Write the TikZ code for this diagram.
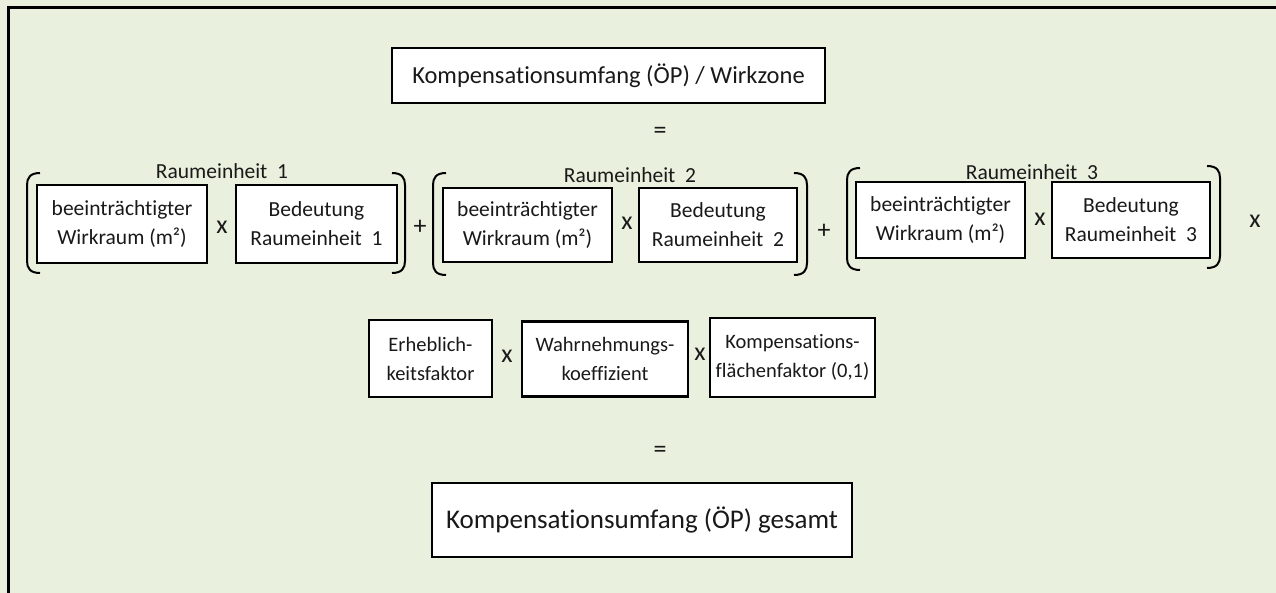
\documentclass[tikz,border=0pt]{standalone}
\usepackage{fontspec}
\setmainfont{Carlito}[Ligatures=NoCommon]
\definecolor{bggreen}{RGB}{233,240,221}
\definecolor{txt}{RGB}{25,25,25}
\begin{document}
\begin{tikzpicture}[x=1pt,y=-1pt,
  box/.style={draw=black, line width=2.6pt, fill=white, align=center, inner sep=0pt, text=txt, font=\fontsize{21.5}{29}\selectfont},
  smallbox/.style={box, font=\fontsize{20.5}{29}\selectfont},
  op/.style={inner sep=0pt, text=txt, font=\fontsize{26}{28}\selectfont},
  lbl/.style={inner sep=0pt, text=txt, font=\fontsize{21.5}{24}\selectfont},
  brk/.style={line width=2pt, draw=black}]
\useasboundingbox (0,0) rectangle (1276,593);
\fill[bggreen] (0,0) rectangle (1276,593);
\draw[line width=3pt] (8,593) -- (8,8) -- (1276,8);

% top
\node[box, line width=2pt, minimum width=433pt, minimum height=55pt, font=\fontsize{24.5}{28}\selectfont] (top) at (608.5,75.5) {Kompensationsumfang (ÖP) / Wirkzone};
\node[op] (eq1) at (660,133) {=};

% group 1
\node[lbl] (r1) at (222,171) {Raumeinheit\ \ 1};
\node[box, minimum width=170pt, minimum height=78pt] (b1) at (122,224) {beeinträchtigter\\Wirkraum (m²)};
\node[op] (x1) at (222,227) {x};
\node[box, minimum width=161pt, minimum height=78pt] (b2) at (316.5,224) {Bedeutung\\Raumeinheit\ \ 1};
\draw[brk] (40,173) .. controls (30,173) and (27,178) .. (27,185) -- (27,261) .. controls (27,268) and (30,273) .. (40,273);
\draw[brk] (392,173) .. controls (402,173) and (405,178) .. (405,185) -- (405,261) .. controls (405,268) and (402,273) .. (392,273);
\node[op] (p1) at (420,227) {+};

% group 2
\node[lbl] (r2) at (630,175) {Raumeinheit\ \ 2};
\node[box, minimum width=169pt, minimum height=74pt] (b3) at (527.5,225) {beeinträchtigter\\Wirkraum (m²)};
\node[op] (x2) at (627,223) {x};
\node[box, minimum width=158pt, minimum height=74pt] (b4) at (718,225) {Bedeutung\\Raumeinheit\ \ 2};
\draw[brk] (446,173) .. controls (436,173) and (433,178) .. (433,185) -- (433,263) .. controls (433,270) and (436,275) .. (446,275);
\draw[brk] (794,173) .. controls (804,173) and (807,178) .. (807,185) -- (807,263) .. controls (807,270) and (804,275) .. (794,275);
\node[op] (p2) at (824,231) {+};

% group 3
\node[lbl] (r3) at (1032,172) {Raumeinheit\ \ 3};
\node[box, minimum width=169pt, minimum height=76pt] (b5) at (940.5,220) {beeinträchtigter\\Wirkraum (m²)};
\node[op] (x3) at (1040,219) {x};
\node[box, minimum width=158pt, minimum height=76pt] (b6) at (1131,220) {Bedeutung\\Raumeinheit\ \ 3};
\draw[brk] (860,168) .. controls (850,168) and (847,173) .. (847,180) -- (847,258) .. controls (847,265) and (850,270) .. (860,270);
\draw[brk] (1207,166) .. controls (1217,166) and (1220,171) .. (1220,178) -- (1220,256) .. controls (1220,263) and (1217,268) .. (1207,268);
\node[op] (x4) at (1255,221) {x};

% row 3
\node[smallbox, minimum width=123pt, minimum height=77pt] (b7) at (430.5,358.5) {Erheblich-\\keitsfaktor};
\node[op] (x5) at (507,356) {x};
\node[smallbox, minimum width=166pt, minimum height=75pt] (b8) at (605,359) {Wahrnehmungs-\\koeffizient};
\node[op] (x6) at (700,354) {x};
\node[smallbox, minimum width=165pt, minimum height=79pt] (b9) at (792.5,357.5) {Kompensations-\\flächenfaktor (0,1)};

% bottom
\node[op] (eq2) at (660,452) {=};
\node[box, minimum width=420pt, minimum height=74pt, font=\fontsize{27}{31}\selectfont] (bot) at (642,520) {Kompensationsumfang (ÖP) gesamt};
\end{tikzpicture}
\end{document}
